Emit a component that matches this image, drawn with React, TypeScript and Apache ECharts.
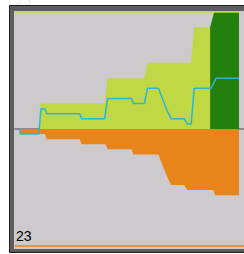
import React, { useEffect, useRef } from "react";
import * as echarts from "echarts";

// Time (minutes) / value pairs
const limeSeries: [number, number][] = [
  [5.0, 0], [5.2, 5], [18.0, 5], [18.6, 10], [26.0, 10], [26.6, 13],
  [35.4, 13], [36.0, 20], [39.4, 20],
];
const darkGreenSeries: [number, number][] = [
  [39.2, 20], [40.0, 23], [45, 23],
];
const orangeSeries: [number, number][] = [
  [0.9, 0], [1.0, -1], [6.0, -1], [6.4, -2], [13.0, -2], [13.4, -3],
  [18.2, -3], [18.6, -4], [23.4, -4], [23.8, -5], [28.8, -5], [29.8, -7.5],
  [30.6, -9.5], [31.4, -11], [34.0, -11], [34.6, -12], [39.8, -12],
  [40.2, -13], [45, -13],
];
const netSeries: [number, number][] = [
  [1.0, 0], [1.05, -1], [4.8, -1], [5.2, 4], [6.0, 4], [6.4, 3], [13.0, 3],
  [13.4, 2], [18.0, 2], [18.6, 6], [23.4, 6], [23.8, 5], [26.0, 5],
  [26.6, 8], [28.8, 8], [29.8, 5.5], [30.6, 3.5], [31.4, 2], [34.0, 2],
  [34.6, 1], [35.4, 1], [36.0, 8], [39.4, 8], [40.4, 10], [45, 10],
];
const maxPositive = 23;
const maxNegative = -23;
const endTime = 45;
const topLabel = "23";
const bottomLabel = "23";

export default function App() {
  const ref = useRef<HTMLDivElement>(null);
  useEffect(() => {
    if (!ref.current) return;
    const chart = echarts.init(ref.current, undefined, { renderer: "svg" });
    const font = "'Liberation Sans', Arial, sans-serif";
    chart.setOption({
      animation: false,
      backgroundColor: "#ffffff",
      grid: { left: 15, top: 12, width: 230, height: 234, containLabel: false },
      xAxis: {
        type: "value",
        min: 0,
        max: 46,
        axisLine: { show: true, onZero: true, lineStyle: { color: "#8a8a8a", width: 2 } },
        axisTick: { show: false },
        axisLabel: { show: false },
        splitLine: { show: false },
      },
      yAxis: {
        type: "value",
        min: maxNegative,
        max: maxPositive,
        axisLine: { show: false },
        axisTick: { show: false },
        axisLabel: { show: false },
        splitLine: { show: false },
      },
      graphic: [
        {
          type: "rect",
          z: -20,
          shape: { x: 9.5, y: 5.5, width: 250, height: 247 },
          style: { fill: "#5d5d5d", stroke: "#1e1e1e", lineWidth: 1 },
        },
        {
          type: "rect",
          z: -10,
          shape: { x: 14, y: 11, width: 240, height: 238 },
          style: { fill: "#cccacd" },
        },
        {
          type: "text",
          z: 100,
          x: 16,
          y: 7,
          style: {
            text: topLabel,
            fill: "#f2f2f2",
            font: "14px " + font,
            textVerticalAlign: "bottom",
          },
        },
        {
          type: "text",
          z: 100,
          x: 16,
          y: 243,
          style: {
            text: bottomLabel,
            fill: "#000000",
            font: "14px " + font,
            textVerticalAlign: "bottom",
          },
        },
      ],
      series: [
        {
          type: "line",
          data: limeSeries,
          symbol: "none",
          lineStyle: { width: 0 },
          areaStyle: { color: "#bfd844", opacity: 1 },
          z: 2,
          silent: true,
        },
        {
          type: "line",
          data: darkGreenSeries,
          symbol: "none",
          lineStyle: { width: 0 },
          areaStyle: { color: "#23800f", opacity: 1 },
          z: 3,
          silent: true,
        },
        {
          type: "line",
          data: orangeSeries,
          symbol: "none",
          lineStyle: { width: 0 },
          areaStyle: { color: "#e8851a", opacity: 1 },
          z: 2,
          silent: true,
          markLine: {
            silent: true,
            symbol: "none",
            label: { show: false },
            data: [
              [
                { coord: [0, maxPositive], lineStyle: { color: "#bfd844", width: 1.5, type: "solid" } },
                { coord: [endTime, maxPositive] },
              ],
              [
                { coord: [0, maxNegative], lineStyle: { color: "#e8851a", width: 1.5, type: "solid" } },
                { coord: [46, maxNegative] },
              ],
            ],
          },
        },
        {
          type: "line",
          data: netSeries,
          symbol: "none",
          lineStyle: { width: 1.5, color: "#2eb4d3" },
          z: 5,
          silent: true,
        },
      ],
    });
    return () => chart.dispose();
  }, []);
  return (
    <div
      ref={ref}
      style={{ position: "absolute", left: 0, top: 0, width: 244, height: 254 }}
    />
  );
}
